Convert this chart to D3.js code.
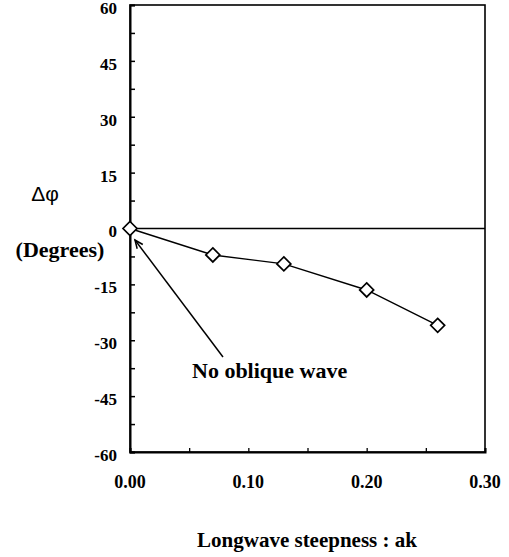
<!DOCTYPE html>
<html>
<head>
<meta charset="utf-8">
<script src="https://cdn.jsdelivr.net/npm/d3@7"></script>
<style>
  html, body { margin: 0; padding: 0; background: #fff; }
  svg { display: block; }
  .serif { font-family: "Liberation Serif", Tinos, "Times New Roman", Times, "DejaVu Serif", serif; font-weight: bold; }
  .sans { font-family: "Liberation Sans", Arial, "DejaVu Sans", sans-serif; }
</style>
</head>
<body>
<svg id="chart" width="509" height="557"></svg>
<script>
// ---- data ----
const steepness = [0.00, 0.07, 0.13, 0.20, 0.26];
const deltaPhi = [0, -7.1, -9.5, -16.5, -26.0];
const yTickValues = [-60, -45, -30, -15, 0, 15, 30, 45, 60];
const xTickValues = [0.00, 0.10, 0.20, 0.30];
const yLabel1 = "Δφ";
const yLabel2 = "(Degrees)";
const xLabel = "Longwave steepness : ak";
const annotation = "No oblique wave";

const svg = d3.select("#chart");

const x = d3.scaleLinear().domain([0, 0.30]).range([130, 485]);
const y = d3.scaleLinear().domain([-60, 60]).range([452, 5]);

// frame
svg.append("rect")
  .attr("x", x(0)).attr("y", y(60))
  .attr("width", x(0.30) - x(0)).attr("height", y(-60) - y(60))
  .attr("fill", "none").attr("stroke", "#000").attr("stroke-width", 1.6);

// y axis ticks (inside, major + minor)
const yAxis = d3.axisRight(y)
  .tickValues(d3.range(-60, 60.1, 7.5))
  .tickSize(5).tickFormat("");
svg.append("g").attr("transform", `translate(${x(0)},0)`).call(yAxis)
  .call(g => g.select(".domain").attr("stroke-width", 2))
  .call(g => g.selectAll(".tick line").attr("stroke-width", 1.5));

// y tick labels
svg.append("g").selectAll("text").data(yTickValues).join("text")
  .attr("class", "serif")
  .attr("x", 117).attr("y", d => y(d) + 5)
  .attr("text-anchor", "end").attr("dominant-baseline", "middle")
  .style("font-size", "17px")
  .text(d => d);

// x axis ticks (inside)
const xAxis = d3.axisTop(x)
  .tickValues(d3.range(0, 0.3001, 0.05))
  .tickSize(4).tickFormat("");
svg.append("g").attr("transform", `translate(0,${y(-60)})`).call(xAxis)
  .call(g => g.select(".domain").attr("stroke-width", 2))
  .call(g => g.selectAll(".tick line").attr("stroke-width", 1.3));

// x tick labels
svg.append("g").selectAll("text").data(xTickValues).join("text")
  .attr("class", "serif")
  .attr("x", d => x(d)).attr("y", 488)
  .attr("text-anchor", "middle")
  .style("font-size", "18px")
  .text(d => d.toFixed(2));

// zero line
svg.append("line")
  .attr("x1", x(0)).attr("x2", x(0.30))
  .attr("y1", y(0)).attr("y2", y(0))
  .attr("stroke", "#000").attr("stroke-width", 1.5);

// data line
const pts = steepness.map((s, i) => [s, deltaPhi[i]]);
svg.append("path")
  .datum(pts)
  .attr("d", d3.line().x(d => x(d[0])).y(d => y(d[1])))
  .attr("fill", "none").attr("stroke", "#000").attr("stroke-width", 1.4);

// diamond markers
svg.append("g").selectAll("path").data(pts).join("path")
  .attr("transform", d => `translate(${x(d[0])},${y(d[1])})`)
  .attr("d", "M0,-7L7,0L0,7L-7,0Z")
  .attr("fill", "#fff").attr("stroke", "#000").attr("stroke-width", 1.7);

// annotation arrow
const ax0 = 223, ay0 = 357, ax1 = 135, ay1 = 240;
svg.append("line")
  .attr("x1", ax0).attr("y1", ay0).attr("x2", ax1).attr("y2", ay1)
  .attr("stroke", "#000").attr("stroke-width", 1.5);
const ang = Math.atan2(ay1 - ay0, ax1 - ax0);
const hl = 9, ha = 0.4;
svg.append("path")
  .attr("d", `M${ax1 - hl * Math.cos(ang - ha)},${ay1 - hl * Math.sin(ang - ha)}L${ax1},${ay1}L${ax1 - hl * Math.cos(ang + ha)},${ay1 - hl * Math.sin(ang + ha)}`)
  .attr("fill", "none").attr("stroke", "#000").attr("stroke-width", 1.5);

svg.append("text")
  .attr("class", "serif")
  .attr("x", 192).attr("y", 378)
  .style("font-size", "22px")
  .text(annotation);

// y label
svg.append("text")
  .attr("class", "sans")
  .attr("x", 45).attr("y", 201)
  .attr("text-anchor", "middle")
  .style("font-size", "21px")
  .text(yLabel1);
svg.append("text")
  .attr("class", "serif")
  .attr("x", 60).attr("y", 257)
  .attr("text-anchor", "middle")
  .style("font-size", "22px")
  .text(yLabel2);

// x label
svg.append("text")
  .attr("class", "serif")
  .attr("x", 307).attr("y", 547)
  .attr("text-anchor", "middle")
  .style("font-size", "21px")
  .text(xLabel);
</script>
</body>
</html>
